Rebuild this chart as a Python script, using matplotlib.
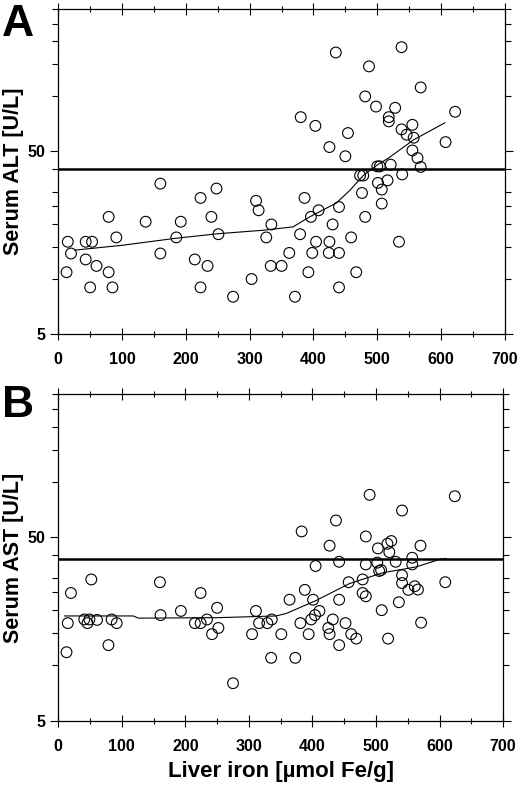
import matplotlib
matplotlib.use("Agg")
import matplotlib.pyplot as plt
from matplotlib.ticker import FixedLocator, NullFormatter, FixedFormatter

plt.rcParams['font.family'] = ['Liberation Sans', 'DejaVu Sans']

# ---- Panel A: ALT ----
alt_x = [15, 20, 13, 43, 53, 43, 60, 50, 79, 79, 85, 91, 137, 160, 160, 185, 192, 214, 223, 223,
         234, 240, 248, 251, 274, 303, 310, 314, 326, 334, 333, 350, 362, 371, 379, 380, 386, 392, 396, 398,
         403, 404, 408, 424, 425, 425, 430, 435, 440, 440, 440, 450, 454, 459, 467, 473, 478, 476, 481, 481,
         487, 498, 500, 504, 501, 507, 507, 516, 518, 518, 521, 528, 534, 538, 538, 539, 546, 555, 557, 555,
         563, 568, 568, 607, 622]
alt_y = [16.0, 13.8, 10.9, 16.0, 16.0, 12.8, 11.8, 9.0, 21.9, 10.9, 9.0, 16.9, 20.6, 33.3, 13.8, 16.9, 20.6, 12.8, 27.8, 9.0,
         11.8, 21.9, 31.3, 17.6, 8.0, 10.0, 26.8, 23.8, 16.9, 19.9, 11.8, 11.8, 13.9, 8.0, 17.6, 77, 27.8, 10.9, 21.9, 13.9,
         69, 16.0, 23.8, 13.9, 16.0, 52.8, 19.9, 174, 24.8, 13.9, 9.0, 47, 63, 16.9, 10.9, 36.9, 36.9, 29.6, 100, 21.9,
         146, 88, 41.4, 41.4, 33.6, 30.9, 25.9, 34.7, 77, 73, 42.3, 86.6, 16.0, 186, 66, 37.4, 61.7, 69.9, 59.4, 50.6,
         46, 112, 41.1, 56.2, 82.4]
alt_smooth_x = [26, 100, 183, 250, 321, 368, 394, 436, 457, 478, 499, 520, 557, 606]
alt_smooth_y = [14.4, 15.3, 16.7, 17.7, 18.5, 19.3, 21.9, 26.1, 30.6, 36.9, 41.9, 46.6, 57.9, 71.7]
alt_limit = 40

# ---- Panel B: AST ----
ast_x = [13, 15, 20, 41, 46, 49, 52, 61, 79, 84, 92, 160, 161, 193, 215, 224, 224, 234, 242, 250,
         252, 275, 305, 311, 316, 329, 336, 335, 351, 364, 373, 381, 383, 388, 394, 398, 401, 404, 405, 411,
         425, 427, 427, 432, 437, 442, 442, 442, 452, 457, 461, 469, 479, 479, 484, 484, 484, 490, 503, 502,
         505, 508, 509, 518, 521, 524, 519, 531, 536, 541, 541, 541, 551, 557, 557, 561, 566, 570, 571, 609, 624]
ast_y = [11.8, 17.0, 24.8, 17.8, 17.0, 17.8, 29.4, 17.7, 12.9, 17.8, 17.0, 28.4, 18.8, 19.8, 17.0, 24.8, 17.0, 17.8, 14.8, 20.6,
         16.0, 8.0, 14.8, 19.8, 17.0, 17.0, 17.8, 11.0, 14.8, 22.8, 11.0, 17.0, 53.7, 25.8, 14.8, 17.8, 22.8, 18.8, 34.8, 19.8,
         16.0, 44.9, 14.8, 17.8, 61.6, 36.7, 22.8, 12.9, 17.0, 28.4, 14.8, 14.0, 29.4, 24.8, 23.8, 35.5, 50.4, 85, 43.4, 36.3,
         32.7, 33.1, 20.0, 46.0, 41.4, 47.6, 14.0, 36.7, 22.1, 69.8, 31.0, 28.1, 25.8, 38.6, 35.5, 27.0, 25.9, 44.9, 17.1, 28.4, 83.5]
ast_smooth_x = [10, 118, 126, 250, 343, 359, 406, 458, 511, 563, 600, 610]
ast_smooth_y = [18.6, 18.6, 18.1, 18.2, 18.6, 19.2, 22.6, 27.9, 32.0, 34.4, 37.8, 38.3]
ast_limit = 38

x_ticks = [0, 100, 200, 300, 400, 500, 600, 700]
x_minor = [50, 150, 250, 350, 450, 550, 650]
y_major = [5, 50]
y_minor = [10, 15, 20, 25, 30, 40, 100, 150, 200, 250, 300]
y_labels = ["5", "50"]

fig = plt.figure(figsize=(5.2, 7.93), dpi=100)
axA = fig.add_axes([0.112, 0.5788, 0.859, 0.4095])
axB = fig.add_axes([0.112, 0.0912, 0.8555, 0.4116])

def style(ax, xs, ys, sx, sy, limit, ylabel):
    ax.set_yscale('log')
    ax.set_xlim(0, 700)
    ax.set_ylim(5, 300)
    ax.scatter(xs, ys, s=60, facecolors='none', edgecolors='black', linewidths=0.8, zorder=3)
    ax.plot(sx, sy, color='black', lw=0.8, zorder=2)
    ax.axhline(limit, color='black', lw=1.8, zorder=2)
    ax.xaxis.set_major_locator(FixedLocator(x_ticks))
    ax.xaxis.set_minor_locator(FixedLocator(x_minor))
    ax.xaxis.set_minor_formatter(NullFormatter())
    ax.yaxis.set_major_locator(FixedLocator(y_major))
    ax.yaxis.set_major_formatter(FixedFormatter(y_labels))
    ax.yaxis.set_minor_locator(FixedLocator(y_minor))
    ax.yaxis.set_minor_formatter(NullFormatter())
    ax.tick_params(axis='x', which='major', direction='inout', length=8, width=0.8,
                   top=True, bottom=True, pad=9, labelsize=11.5)
    ax.tick_params(axis='x', which='minor', direction='inout', length=4, width=0.8,
                   top=True, bottom=True)
    ax.tick_params(axis='y', which='major', direction='out', length=6, width=0.8,
                   left=True, right=True, pad=3, labelsize=11.5)
    ax.tick_params(axis='y', which='minor', direction='out', length=4, width=0.8,
                   left=True, right=True)
    for lab in ax.get_xticklabels() + ax.get_yticklabels():
        lab.set_fontweight('bold')
    for sp in ax.spines.values():
        sp.set_linewidth(0.9)
    ax.set_ylabel(ylabel, fontsize=15.5, fontweight='bold')

style(axA, alt_x, alt_y, alt_smooth_x, alt_smooth_y, alt_limit, 'Serum ALT [U/L]')
style(axB, ast_x, ast_y, ast_smooth_x, ast_smooth_y, ast_limit, 'Serum AST [U/L]')
axA.yaxis.set_label_coords(-0.077, 0.5)
axB.yaxis.set_label_coords(-0.077, 0.5)
axB.set_xlabel('Liver iron [µmol Fe/g]', fontsize=16, fontweight='bold', labelpad=5)

fig.text(0.004, 0.995, 'A', fontsize=32, fontweight='bold', va='top', ha='left')
fig.text(0.004, 0.515, 'B', fontsize=32, fontweight='bold', va='top', ha='left')

fig.savefig('out.png', dpi=100)
